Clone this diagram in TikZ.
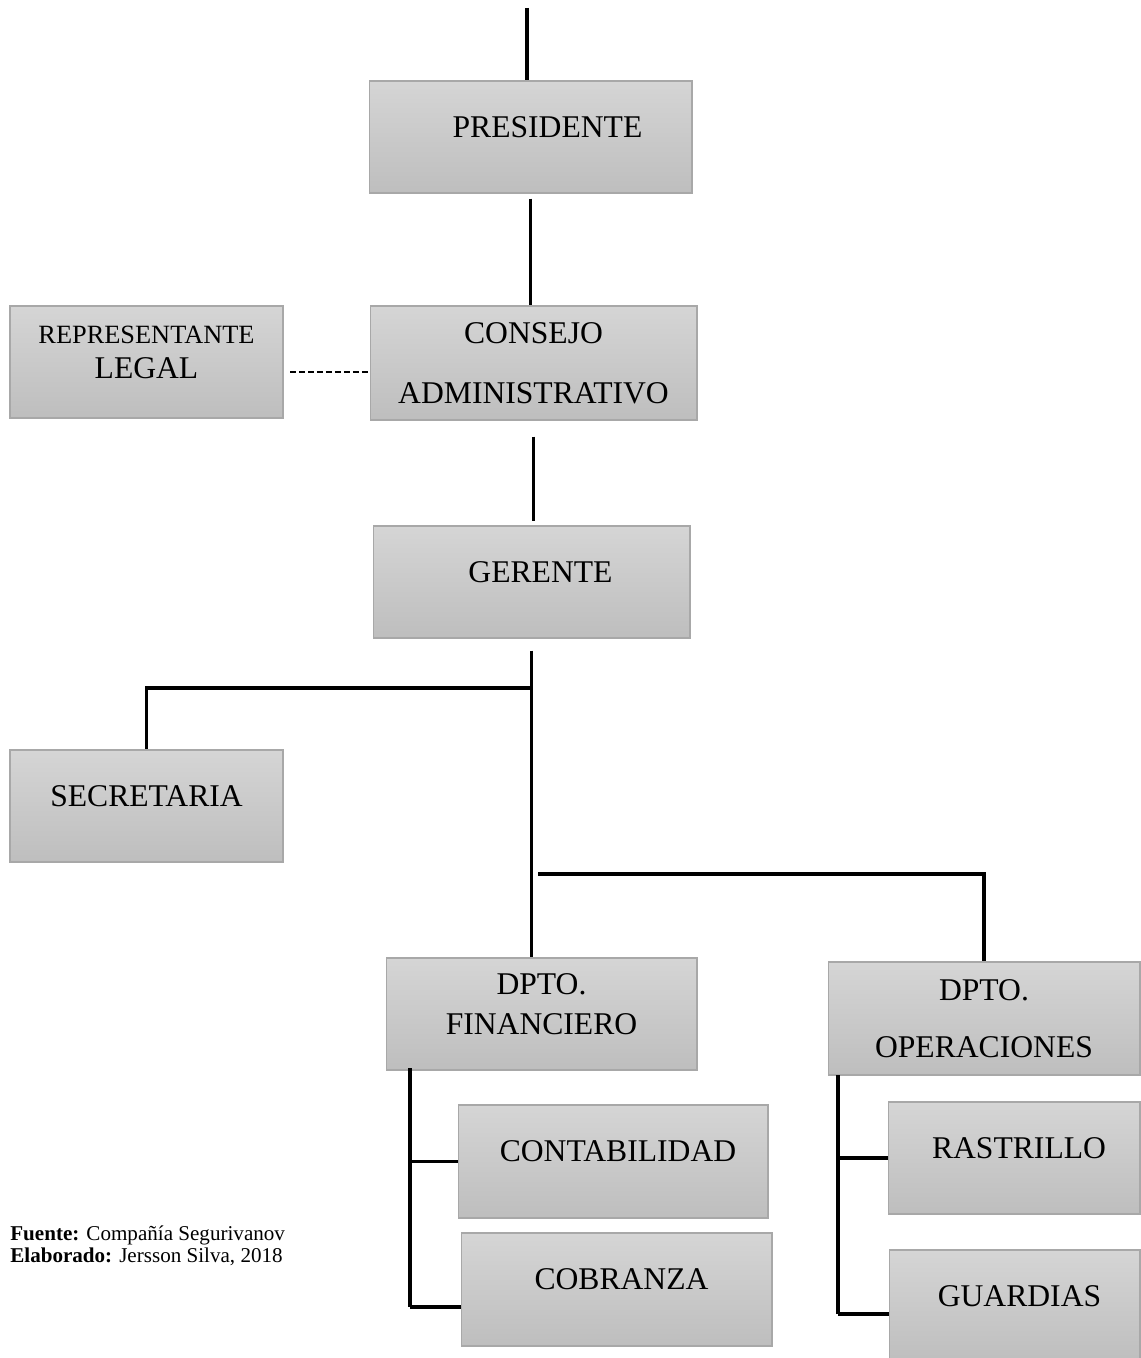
\documentclass[tikz,border=0pt]{standalone}
\usepackage{fontspec}
\setmainfont{Liberation Serif}
\usepackage{tikz}

\definecolor{boxtop}{RGB}{213,213,213}
\definecolor{boxbot}{RGB}{190,190,190}
\definecolor{boxline}{RGB}{168,168,168}

\begin{document}
\begin{tikzpicture}[x=0.02cm,y=-0.02cm]
    \tikzstyle{box}=[draw=boxline, line width=0.6pt, top color=boxtop, bottom color=boxbot,
        minimum height=2.24cm, inner sep=0pt, align=center, text depth=0.4cm,
        font=\fontsize{18pt}{22pt}\selectfont]
    \tikzstyle{conn}=[black, line width=2pt]
    \useasboundingbox (0,0) rectangle (1140,1358);
    \node [box, minimum width=6.46cm] (pres) at (530.5,137) {\hspace*{0.68cm}PRESIDENTE};
    \node [box, minimum width=5.46cm] (rep) at (146.5,362) {{\fontsize{15pt}{18pt}\selectfont REPRESENTANTE}\\[-2pt]LEGAL};
    \node [box, minimum width=6.54cm, minimum height=2.28cm, text depth=0pt] (cons) at (533.5,363) {CONSEJO\\[12pt]ADMINISTRATIVO};
    \node [box, minimum width=6.34cm] (ger) at (531.5,582) {\hspace*{0.36cm}GERENTE};
    \node [box, minimum width=5.46cm] (sec) at (146.5,806) {SECRETARIA};
    \node [box, minimum width=6.22cm] (fin) at (541.5,1014) {DPTO.\\[1pt]FINANCIERO};
    \node [box, minimum width=6.24cm, minimum height=2.26cm, text depth=0pt] (ope) at (984,1018.5) {DPTO.\\[10pt]OPERACIONES};
    \node [box, minimum width=6.20cm, minimum height=2.26cm] (cont) at (613,1161.5) {\hspace*{0.2cm}CONTABILIDAD};
    \node [box, minimum width=6.22cm, minimum height=2.26cm] (cobr) at (616.5,1289.5) {\hspace*{0.2cm}COBRANZA};
    \node [box, minimum width=5.04cm] (rast) at (1014,1158) {\hspace*{0.2cm}RASTRILLO};
    \node [box, minimum width=5.02cm] (guar) at (1014.5,1306) {\hspace*{0.2cm}GUARDIAS};
    \node [anchor=north west, inner sep=0pt, align=left, font=\fontsize{12pt}{13pt}\selectfont] (src) at (10,1225)
        {\textbf{Fuente:} Compañía Segurivanov\\\textbf{Elaborado:} Jersson Silva, 2018};

    \coordinate (top) at (527,8);
    \coordinate (secj) at (531.5,688);
    \coordinate (opej) at (538,874);
    \coordinate (finb) at (410,1068);
    \coordinate (fine) at (410,1307);
    \coordinate (opeb) at (838,1075);
    \coordinate (opee) at (838,1314);
    \coordinate (dsh) at (290,372);

    \draw [conn] (top) -- (top |- pres.north);
    \draw [conn, shorten <=0.1cm] (pres.south) -- (pres.south |- cons.north);
    \draw [conn, shorten <=0.32cm, shorten >=0.08cm] (cons.south) -- (cons.south |- ger.north);
    \draw [conn, shorten <=0.24cm] (ger.south) -- (ger.south |- fin.north);
    \draw [conn] (secj) -| (sec.north);
    \draw [conn] (opej) -| (ope.north);
    \draw [black, line width=1pt, dash pattern=on 0.12cm off 0.06cm] (dsh) -- (dsh -| cons.west);
    \draw [conn] (finb) -- (fine);
    \draw [conn] (finb |- cont.west) -- (cont.west);
    \draw [conn] (fine) -- (fine -| cobr.west);
    \draw [conn] (opeb) -- (opee);
    \draw [conn] (opeb |- rast.west) -- (rast.west);
    \draw [conn] (opee) -- (opee -| guar.west);
\end{tikzpicture}
\end{document}
